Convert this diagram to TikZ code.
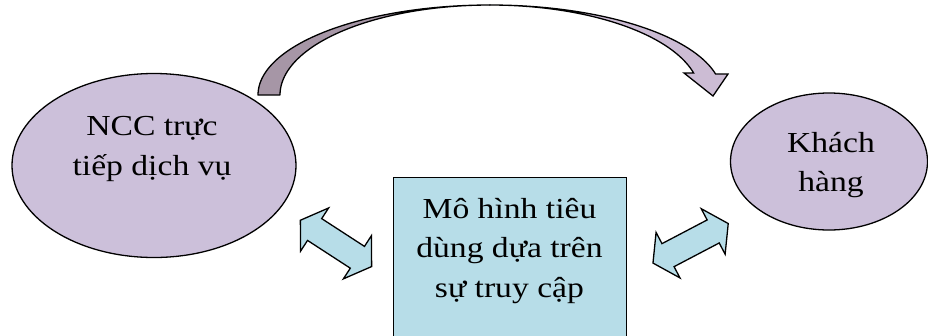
\documentclass[tikz,border=0pt]{standalone}
\usepackage{fontspec}
\setmainfont{Liberation Serif}[FakeStretch=1.16]
\usetikzlibrary{shapes.geometric}

\definecolor{bubble}{RGB}{204,192,218}
\definecolor{panel}{RGB}{183,221,232}
\definecolor{ribbonback}{RGB}{166,150,166}
\definecolor{ribbonfront}{RGB}{204,188,212}

\tikzset{
  outline/.style={draw=black, line width=1.3pt},
  bubblenode/.style={ellipse, outline, fill=bubble, inner sep=0pt},
  panelnode/.style={rectangle, outline, fill=panel, inner sep=0pt},
  caption/.style={align=center, font=\fontsize{29}{39.5}\selectfont, inner sep=0pt},
  blockarrow/.style={outline, fill=panel, line join=miter},
  dblarrow/.pic={
    \path[blockarrow] (-42.5,0) -- (-25.5,-25.7) -- (-25.5,-13) -- (25.5,-13)
      -- (25.5,-25.7) -- (42.5,0) -- (25.5,25.7) -- (25.5,13) -- (-25.5,13)
      -- (-25.5,25.7) -- cycle;
  }
}

\begin{document}
\begin{tikzpicture}[x=1pt, y=-1pt]
  \useasboundingbox (0,0) rectangle (928,335);
  \clip (0,0) rectangle (928,335);

  % provider and customer bubbles
  \node[bubblenode, minimum width=284pt, minimum height=184pt] (ncc) at (154,165.5) {};
  \node[caption] (ncctext) at (152,149) {NCC trực\\tiếp dịch vụ};

  \node[bubblenode, minimum width=197pt, minimum height=137pt] (kh) at (829,161.5) {};
  \node[caption] (khtext) at (831,165) {Khách\\hàng};

  % consumption model box
  \node[panelnode, minimum width=233pt, minimum height=180pt, anchor=north west] (model) at (393,177) {};
  \node[caption] (modeltext) at (509.5,251) {Mô hình tiêu\\dùng dựa trên\\sự truy cập};

  % curved ribbon arrow from provider to customer
  \path[outline, fill=ribbonback, line join=round]
    plot[domain=180:90, samples=60] ({490+232*cos(\x)},{95-90*sin(\x)})
    -- plot[domain=90:180, samples=60] ({490+210*cos(\x)},{95-90*sin(\x)})
    -- cycle;
  \path[outline, fill=ribbonfront, line join=miter]
    plot[domain=90:13.5, samples=60] ({490+232*cos(\x)},{95-90*sin(\x)})
    -- (728,74) -- (713,96) -- (684,73)
    -- plot[domain=14.15:90, samples=60] ({490+210*cos(\x)},{95-90*sin(\x)})
    -- cycle;

  % two-way block arrows beside the model box
  \pic[rotate=-33] (leftlink) at (336,243.4) {dblarrow};
  \pic[rotate=27.7] (rightlink) at (690.6,243.3) {dblarrow};
\end{tikzpicture}
\end{document}
